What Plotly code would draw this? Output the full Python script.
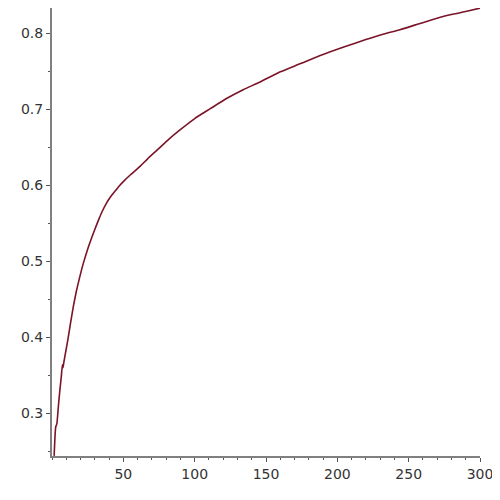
import plotly.graph_objects as go

x_vals = [1.5, 2.6, 3.4, 4.5, 5.5, 6.5, 7.3, 7.7, 8.3, 9.8, 11.4, 13, 15, 17, 19, 21.9,
          25, 28, 30, 32.5, 35, 38, 40.7, 44, 47, 50, 55, 61.7, 67, 73.4, 82, 89.7,
          100, 111, 122, 134, 145.8, 160, 173.8, 188, 205, 220, 232, 244, 262, 279, 290, 300]
y_vals = [0.244, 0.282, 0.286, 0.310, 0.330, 0.348, 0.364, 0.360, 0.367, 0.383, 0.400, 0.419,
          0.441, 0.460, 0.476, 0.497, 0.516, 0.532, 0.542, 0.554, 0.565, 0.576, 0.584, 0.592,
          0.599, 0.605, 0.614, 0.625, 0.635, 0.646, 0.661, 0.673, 0.688, 0.701, 0.714, 0.726,
          0.736, 0.7495, 0.760, 0.771, 0.7825, 0.792, 0.799, 0.805, 0.8155, 0.8245, 0.829, 0.8333]

x_ticks = [50, 100, 150, 200, 250, 300]
y_ticks = [0.3, 0.4, 0.5, 0.6, 0.7, 0.8]

fig = go.Figure()
fig.add_trace(go.Scatter(x=x_vals, y=y_vals, mode="lines",
                         line=dict(color="#7a1428", width=1.6, shape="spline", smoothing=0.5),
                         showlegend=False, hoverinfo="skip"))

axis_common = dict(showline=True, linecolor="#808080", linewidth=2, showgrid=False,
                   zeroline=False, ticks="outside", ticklen=4, tickwidth=1, tickcolor="#555555",
                   tickfont=dict(family="DejaVu Sans", size=14, color="#333333"))

fig.update_layout(
    width=492, height=492,
    margin=dict(l=44, r=20, t=0, b=44, pad=0),
    paper_bgcolor="white", plot_bgcolor="white",
    xaxis=dict(range=[0, 300], tickvals=x_ticks, ticktext=[str(v) for v in x_ticks],
               minor=dict(dtick=10, tick0=0, ticks="outside", ticklen=2, tickcolor="#555555"),
               **axis_common),
    yaxis=dict(range=[0.2438, 0.8335], tickvals=y_ticks, ticktext=[str(v) for v in y_ticks],
               minor=dict(dtick=0.05, tick0=0.25, ticks="outside", ticklen=2, tickcolor="#555555"),
               **axis_common),
)

fig.write_html("out.html")
